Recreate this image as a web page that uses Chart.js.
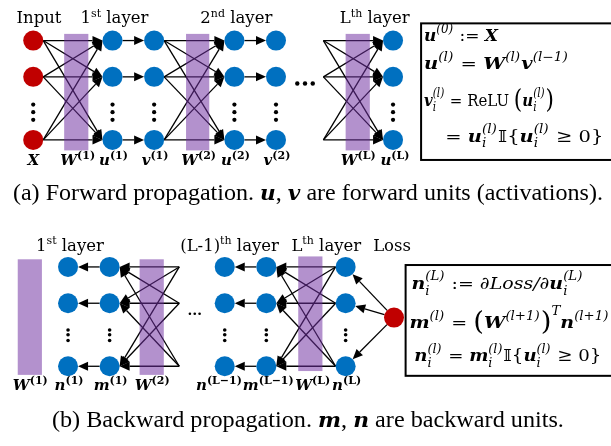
<!DOCTYPE html>
<html><head><meta charset="utf-8">
<script src="https://cdn.jsdelivr.net/npm/chart.js"></script>
<style>html,body{margin:0;padding:0;background:#fff}</style>
</head><body>
<canvas id="c" width="611" height="446"></canvas>
<script>
// ---------------- DATA (diagram coordinates) ----------------
// forward (top) network
const topRows = [32, 70, 136];
const topInputColumn = [24];
const topHiddenColumns = [106, 149, 232, 275, 396];
const topFullLinks = [[24, 106, 1], [149, 232, 1], [324, 396, 0]];   // from, to, fromIsNode
const topStraightLinks = [[106, 149], [232, 275]];
const topWeightBars = [[56, 81], [182, 206], [347, 372]];
const topBarSpan = [25, 147];
const topVDotsY = [99, 107, 115];
const topHDotsX = [297, 305, 313];
const topHDotsY = 77;
const topNodeLabels = [['X', '', 24], ['W', '(1)', 70], ['u', '(1)', 107], ['v', '(1)', 150], ['W', '(2)', 195], ['u', '(2)', 233], ['v', '(2)', 276], ['W', '(L)', 360], ['u', '(L)', 398]];
const topLayerLabels = [['Input', '', '', 30], ['1', 'st', ' layer', 108], ['2', 'nd', ' layer', 234], ['L', 'th', ' layer', 377]];

// backward (bottom) network
const botRows = [269, 307, 373];
const botHiddenColumns = [60, 103, 222, 265, 347];
const botStraightLinks = [[103, 60], [265, 222]];
const botFullLinks = [[175, 103, 0], [347, 265, 1]];
const botWeightBars = [[8, 33, 261, 382], [134, 159, 261, 382], [298, 323, 258, 378]];
const lossNode = [397, 322];
const lossTargetsColumn = 347;
const botVDotsY = [335, 340, 346];
const botHDotsX = [186, 191, 196];
const botHDotsY = 318;
const botNodeLabels = [['W', '(1)', 21], ['n', '(1)', 61], ['m', '(1)', 104], ['W', '(2)', 147], ['n', '(L−1)', 216], ['m', '(L−1)', 267], ['W', '(L)', 313], ['n', '(L)', 348]];
const botLayerLabels = [['1', 'st', ' layer', 62], ['(L-1)', 'th', ' layer', 227], ['L', 'th', ' layer', 327], ['Loss', '', '', 395]];

const captionA = ['(a) Forward propagation. ', 'u', ', ', 'v', ' are forward units (activations).'];
const captionB = ['(b) Backward propagation. ', 'm', ', ', 'n', ' are backward units.'];

// ---------------- build datasets ----------------
const pts = (cols, rows) => cols.flatMap(x => rows.map(y => ({x, y})));
const dotPts = (cols, ys) => cols.flatMap(x => ys.map(y => ({x, y})));
const RED = '#c00000', BLUE = '#0070c0';
const datasets = [
  {data: pts(topInputColumn, topRows), backgroundColor: RED, pointRadius: 10},
  {data: pts(topHiddenColumns, topRows), backgroundColor: BLUE, pointRadius: 10},
  {data: pts(botHiddenColumns, botRows), backgroundColor: BLUE, pointRadius: 10},
  {data: [{x: lossNode[0], y: lossNode[1]}], backgroundColor: RED, pointRadius: 10},
  {data: dotPts(topInputColumn.concat(topHiddenColumns), topVDotsY), backgroundColor: '#000', pointRadius: 2.1},
  {data: topHDotsX.map(x => ({x, y: topHDotsY})), backgroundColor: '#000', pointRadius: 2.2},
  {data: dotPts(botHiddenColumns, botVDotsY), backgroundColor: '#000', pointRadius: 1.8},
  {data: botHDotsX.map(x => ({x, y: botHDotsY})), backgroundColor: '#000', pointRadius: 1.3}
].map(d => Object.assign(d, {borderWidth: 0, pointHoverRadius: d.pointRadius, clip: false}));

// ---------------- rich text helpers ----------------
const MF = '"DejaVu Serif"';
const fs = (st, sz, fam) => `${st} ${sz}px ${fam || MF}`;
function mItem(ctx, it) {
  if (it.sup || it.sub) {
    let w = 0;
    for (const p of [it.sup, it.sub]) if (p) { ctx.font = fs(p.st, p.sz, p.fam); w = Math.max(w, ctx.measureText(p.t).width); }
    return w + (it.gap || 0);
  }
  ctx.font = fs(it.st, it.sz, it.fam); return ctx.measureText(it.t).width + (it.gap || 0);
}
function drawRich(ctx, items, x, y, align, width) {
  const total = items.reduce((a, it) => a + mItem(ctx, it), 0);
  const k = width ? width / total : 1;
  const start = align === 'center' ? x - total * k / 2 : x;
  ctx.save();
  ctx.translate(start, 0); ctx.scale(k, 1);
  let cx = 0;
  ctx.textAlign = 'left'; ctx.textBaseline = 'alphabetic'; ctx.fillStyle = '#000';
  for (const it of items) {
    const w = mItem(ctx, it);
    if (it.sup || it.sub) {
      for (const p of [it.sup, it.sub]) if (p) { ctx.font = fs(p.st, p.sz, p.fam); ctx.fillText(p.t, cx, y + p.dy); }
    } else { ctx.font = fs(it.st, it.sz, it.fam); ctx.fillText(it.t, cx, y + (it.dy || 0)); }
    cx += w;
  }
  ctx.restore();
}
const V = (t, s) => ({t, st: 'italic bold', sz: s});
const R = (t, s) => ({t, st: '', sz: s});
const IT = (t, s) => ({t, st: 'italic', sz: s});
const SUP = (t, s, st) => ({t, st: st || 'italic', sz: s * 0.7, dy: -s * 0.45, gap: 1});
const SS = (sp, sb, s) => ({sup: {t: sp, st: 'italic', sz: s * 0.7, dy: -s * 0.5}, sub: {t: sb, st: 'italic', sz: s * 0.7, dy: s * 0.32}, gap: 1});
const BP = (t, s) => ({t, st: '', sz: s * 1.45, dy: s * 0.12});

// ---------------- drawing plugin ----------------
const diagram = {
  id: 'diagram',
  beforeDatasetsDraw(chart) {
    const ctx = chart.ctx, X = v => chart.scales.x.getPixelForValue(v), Y = v => chart.scales.y.getPixelForValue(v);
    const r = 10;
    ctx.save();
    ctx.strokeStyle = '#000'; ctx.fillStyle = '#000'; ctx.lineWidth = 1.3;
    function arrow(x1, y1, x2, y2) {
      const a = Math.atan2(y2 - y1, x2 - x1), L = 10, W = 4.5;
      const bx = x2 - L * Math.cos(a), by = y2 - L * Math.sin(a);
      ctx.beginPath(); ctx.moveTo(x1, y1); ctx.lineTo(bx, by); ctx.stroke();
      ctx.beginPath(); ctx.moveTo(x2, y2);
      ctx.lineTo(bx + W * Math.sin(a), by - W * Math.cos(a));
      ctx.lineTo(bx - W * Math.sin(a), by + W * Math.cos(a)); ctx.closePath(); ctx.fill();
    }
    function full(links, rows) {
      for (const [f, t, isNode] of links) {
        const dir = Math.sign(t - f);
        for (const y1 of rows) for (const y2 of rows)
          arrow(X(f) + (isNode ? dir * r : 0), Y(y1), X(t) - dir * r, Y(y2));
      }
    }
    function straight(links, rows) {
      for (const [f, t] of links) { const dir = Math.sign(t - f); for (const y of rows) arrow(X(f) + dir * r, Y(y), X(t) - dir * r, Y(y)); }
    }
    full(topFullLinks, topRows); straight(topStraightLinks, topRows);
    full(botFullLinks, botRows); straight(botStraightLinks, botRows);
    for (const y of botRows) {
      const x1 = X(lossNode[0]), y1 = Y(lossNode[1]), x2 = X(lossTargetsColumn), y2 = Y(y);
      const a = Math.atan2(y2 - y1, x2 - x1);
      arrow(x1 + r * Math.cos(a), y1 + r * Math.sin(a), x2 - r * Math.cos(a), y2 - r * Math.sin(a));
    }
    // weight bars (semi-transparent over the links)
    ctx.fillStyle = 'rgba(112,48,160,0.53)';
    for (const [a, b] of topWeightBars) ctx.fillRect(X(a), Y(topBarSpan[0]), X(b) - X(a), Y(topBarSpan[1]) - Y(topBarSpan[0]));
    for (const [a, b, c, d] of botWeightBars) ctx.fillRect(X(a), Y(c), X(b) - X(a), Y(d) - Y(c));
    ctx.restore();
  },
  afterDraw(chart) {
    const ctx = chart.ctx, X = v => chart.scales.x.getPixelForValue(v), Y = v => chart.scales.y.getPixelForValue(v);
    ctx.save();
    // layer titles
    const TF = '"DejaVu Serif"';
    const title = (l, yb) => {
      for (const [a, s, b, cx] of l) {
        drawRich(ctx, [{t: a, st: '', sz: 16.5, fam: TF}, {t: s, st: '', sz: 11, fam: TF, dy: -6.5}, {t: b, st: '', sz: 16.5, fam: TF}], X(cx), Y(yb), 'center');
      }
    };
    title(topLayerLabels, 14); title(botLayerLabels, 252);
    // node labels
    const nl = (l, yb) => {
      for (const [b, s, cx] of l) drawRich(ctx, [V(b, 15), {t: s, st: 'bold', sz: 11, dy: -6}], X(cx), Y(yb), 'center');
    };
    nl(topNodeLabels, 162); nl(botNodeLabels, 398);
    // equation boxes
    ctx.strokeStyle = '#000'; ctx.lineWidth = 2;
    ctx.strokeRect(X(425), Y(14), X(640) - X(425), Y(157) - Y(14));
    ctx.strokeRect(X(409), Y(267), X(640) - X(409), Y(383) - Y(267));
    const s = 17.5;
    drawRich(ctx, [V('u', s), SUP('(0)', s, ''), R(' := ', s), V('X', s)], X(428), Y(32), 'left', 74);
    drawRich(ctx, [V('u', s), SUP('(l)', s), R(' = ', s), V('W', s), SUP('(l)', s), V('v', s), SUP('(l−1)', s)], X(428), Y(62), 'left', 145);
    drawRich(ctx, [V('v', s), SS('(l)', 'i', s), R(' = ReLU ', s), BP('(', s), V('u', s), SS('(l)', 'i', s), BP(')', s)], X(428), Y(100), 'left', 130);
    drawRich(ctx, [R('= ', s), V('u', s), SS('(l)', 'i', s), R('𝕀{', s), V('u', s), SS('(l)', 'i', s), R(' ≥ 0}', s)], X(450), Y(138), 'left', 158);
    drawRich(ctx, [V('n', s), SS('(L)', 'i', s), R(' := ', s), IT('∂Loss/∂', s), V('u', s), SS('(L)', 'i', s)], X(415), Y(292), 'left', 172);
    drawRich(ctx, [V('m', s), SUP('(l)', s), R(' = ', s), BP('(', s), V('W', s), SUP('(l+1)', s), BP(')', s), {t: 'T', st: 'italic', sz: s * 0.7, dy: -s * 0.75}, V('n', s), SUP('(l+1)', s)], X(413), Y(333), 'left', 200);
    drawRich(ctx, [V('n', s), SS('(l)', 'i', s), R(' = ', s), V('m', s), SS('(l)', 'i', s), R('𝕀{', s), V('u', s), SS('(l)', 'i', s), R(' ≥ 0}', s)], X(418), Y(368), 'left', 187);
    // captions
    const CF = '"Liberation Serif"', cs = 23;
    const cap = (c, x, yb, w) => drawRich(ctx, [
      {t: c[0], st: '', sz: cs, fam: CF}, {t: c[1], st: 'italic bold', sz: cs * 0.9}, {t: c[2], st: '', sz: cs, fam: CF},
      {t: c[3], st: 'italic bold', sz: cs * 0.9}, {t: c[4], st: '', sz: cs, fam: CF}], X(x), Y(yb), 'center', w);
    cap(captionA, 308, 199, 590); cap(captionB, 308, 437, 512);
    ctx.restore();
  }
};

new Chart(document.getElementById('c'), {
  type: 'scatter',
  data: {datasets},
  options: {
    responsive: false, animation: false, events: [],
    layout: {padding: 0},
    plugins: {legend: {display: false}, tooltip: {enabled: false}},
    scales: {
      x: {type: 'linear', min: 0, max: 611, display: false},
      y: {type: 'linear', min: 0, max: 446, reverse: true, display: false}
    }
  },
  plugins: [diagram]
});
</script>
</body></html>
